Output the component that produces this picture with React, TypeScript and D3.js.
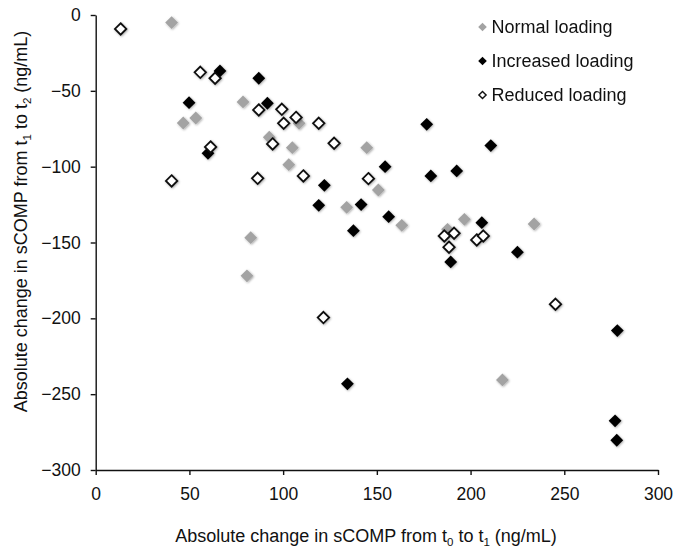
import * as d3 from "d3";
import { useEffect, useRef } from "react";

// values, [change t0->t1, change t1->t2]
const normalLoading: [number, number][] = [
  [40.5, -5], [46.7, -71.2], [53.4, -67.9], [78.6, -57.3], [82.7, -146.8],
  [80.7, -172], [92.6, -80.6], [104.9, -87.5], [103, -98.7], [108.5, -71.4],
  [133.9, -126.8], [144.6, -87.5], [150.8, -115.4], [163.3, -138.7],
  [187.7, -141.3], [196.7, -134.7], [217, -240.6], [233.9, -137.8],
];

const increasedLoading: [number, number][] = [
  [49.8, -57.8], [59.9, -91.2], [66.3, -36.9], [87, -41.7], [91.6, -58.2],
  [119, -125.5], [122, -112.3], [134.3, -243.2], [137.5, -142.2],
  [141.6, -125], [154.4, -100], [156.3, -133], [176.6, -72.1],
  [178.8, -106.1], [189.4, -162.8], [192.6, -102.8], [206, -136.9],
  [210.8, -86.1], [225, -156.4], [277.1, -267.6], [278, -280.4], [278.3, -208.1],
];

const reducedLoading: [number, number][] = [
  [13.3, -9.2], [40.5, -109.4], [55.8, -37.8], [61.3, -87], [63.7, -41.7],
  [86.4, -107.7], [87, -62.6], [94.4, -85], [99.3, -62.2], [100.3, -71.4],
  [106.9, -67.5], [110.8, -106.1], [119, -71.4], [121.5, -199.5],
  [127.2, -84.6], [145.5, -107.9], [186, -145.7], [188.5, -153.1],
  [191.2, -143.9], [203.3, -148.3], [206.8, -145.7], [245.3, -190.7],
];

const seriesNames = ["Normal loading", "Increased loading", "Reduced loading"];
const xTicks = [0, 50, 100, 150, 200, 250, 300];
const yTicks = [0, -50, -100, -150, -200, -250, -300];

const width = 675;
const height = 547;
const font = "'Liberation Sans', Arial, sans-serif";

const styles = [
  { fill: "#a3a3a3", stroke: "none", sw: 0 },
  { fill: "#000", stroke: "none", sw: 0 },
  { fill: "#fff", stroke: "#111", sw: 1.8 },
];

const diamond = (r: number) => `M0,${-r}L${r},0L0,${r}L${-r},0Z`;

export default function App() {
  const xRef = useRef<SVGGElement>(null);
  const yRef = useRef<SVGGElement>(null);

  const x = d3.scaleLinear().domain([0, 300]).range([95.7, 658]);
  const y = d3.scaleLinear().domain([-300, 0]).range([470, 15]);

  useEffect(() => {
    const xa = d3.select(xRef.current!);
    xa.call(
      d3.axisBottom(x).tickValues(xTicks).tickSize(5).tickSizeOuter(0).tickPadding(12.5)
    );
    const ya = d3.select(yRef.current!);
    ya.call(
      d3.axisLeft(y).tickValues(yTicks).tickSize(5).tickSizeOuter(0).tickPadding(10)
    );
    [xa, ya].forEach((g) => {
      g.selectAll("path, line").attr("stroke", "#111").attr("stroke-width", 1.4);
      g.selectAll("text")
        .attr("font-family", font)
        .attr("font-size", 17.5)
        .attr("fill", "#111");
    });
  }, []);

  const all = [normalLoading, increasedLoading, reducedLoading];

  return (
    <svg
      width={width}
      height={height}
      style={{ position: "absolute", left: 0, top: 0, background: "#fff" }}
    >
      <defs>
        <filter id="shadow" x="-50%" y="-50%" width="200%" height="200%">
          <feDropShadow dx="0.8" dy="0.8" stdDeviation="0.9" floodColor="#000" floodOpacity="0.35" />
        </filter>
      </defs>
      <g ref={xRef} transform="translate(0,470)" />
      <g ref={yRef} transform="translate(95.7,0)" />

      {all.map((pts, i) => (
        <g key={i} filter="url(#shadow)">
          {pts.map(([a, b], j) => (
            <path
              key={j}
              d={diamond(i === 2 ? 5.7 : 6.4)}
              transform={`translate(${x(a)},${y(b)})`}
              fill={styles[i].fill}
              stroke={styles[i].stroke}
              strokeWidth={styles[i].sw}
            />
          ))}
        </g>
      ))}

      {seriesNames.map((name, i) => (
        <g key={name} transform={`translate(482.5,${27 + i * 34})`}>
          <path
            d={diamond(i === 2 ? 3.6 : 4.3)}
            fill={styles[i].fill}
            stroke={styles[i].stroke}
            strokeWidth={styles[i].sw * 0.8}
          />
          <text x={9} dy="0.36em" fontFamily={font} fontSize={18} fill="#111">
            {name}
          </text>
        </g>
      ))}

      <text
        x={366}
        y={541.7}
        textAnchor="middle"
        fontFamily={font}
        fontSize={18}
        fill="#111"
      >
        Absolute change in sCOMP from t
        <tspan fontSize={11.5} dy={4}>0</tspan>
        <tspan dy={-4}> to t</tspan>
        <tspan fontSize={11.5} dy={4}>1</tspan>
        <tspan dy={-4}> (ng/mL)</tspan>
      </text>

      <text
        transform="translate(27,221.5) rotate(-90)"
        textAnchor="middle"
        fontFamily={font}
        fontSize={18}
        fill="#111"
      >
        Absolute change in sCOMP from t
        <tspan fontSize={11.5} dy={4}>1</tspan>
        <tspan dy={-4}> to t</tspan>
        <tspan fontSize={11.5} dy={4}>2</tspan>
        <tspan dy={-4}> (ng/mL)</tspan>
      </text>
    </svg>
  );
}
